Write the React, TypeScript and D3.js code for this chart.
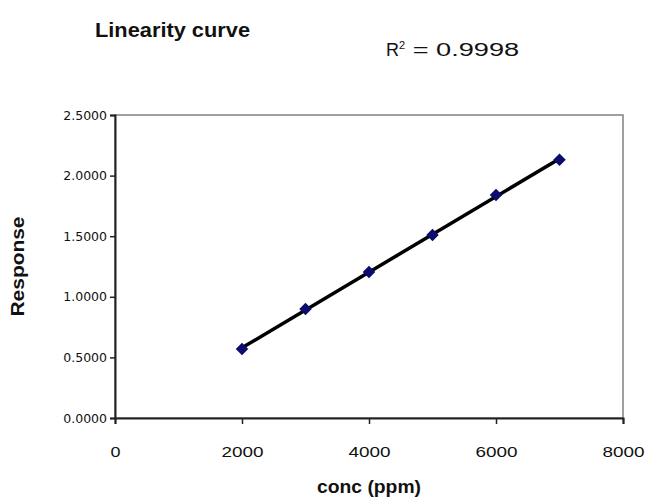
import React, { useRef, useEffect } from "react";
import * as d3 from "d3";

// readings
const conc = [2000, 3000, 4000, 5000, 6000, 7000];
const response = [0.57, 0.9, 1.205, 1.51, 1.84, 2.13];
const xTicks = [0, 2000, 4000, 6000, 8000];
const yTicks = [0, 0.5, 1, 1.5, 2, 2.5];
const rSquared = "0.9998";

const W = 645;
const H = 501;
const margin = { top: 115, right: 22, bottom: 83, left: 115 };

const App = () => {
    const ref = useRef<SVGSVGElement>(null);

    useEffect(() => {
        const svg = d3.select(ref.current);
        svg.selectAll("*").remove();

        const x = d3.scaleLinear().domain([0, 8000]).range([margin.left, W - margin.right]);
        const y = d3.scaleLinear().domain([0, 2.5]).range([H - margin.bottom, margin.top]);

        // plot frame (top / right in grey)
        svg.append("rect")
            .attr("x", x(0)).attr("y", y(2.5))
            .attr("width", x(8000) - x(0)).attr("height", y(0) - y(2.5))
            .attr("fill", "none").attr("stroke", "#808080").attr("stroke-width", 1.5);

        // y axis
        const yAxis = svg.append("g")
            .attr("transform", `translate(${x(0)},0)`)
            .call(d3.axisLeft(y).tickValues(yTicks).tickFormat(d3.format(".4f")).tickSize(5).tickPadding(3));
        yAxis.select(".domain").attr("stroke", "#222").attr("stroke-width", 2);
        yAxis.selectAll(".tick line").attr("stroke", "#222").attr("stroke-width", 1.5);
        yAxis.selectAll(".tick text")
            .attr("font-family", "DejaVu Sans, Verdana, sans-serif")
            .attr("font-size", 12.5).attr("fill", "#111");

        // x axis
        const xAxis = svg.append("g")
            .attr("transform", `translate(0,${y(0)})`)
            .call(d3.axisBottom(x).tickValues(xTicks).tickFormat(d3.format("d")).tickSize(6).tickPadding(22));
        xAxis.select(".domain").attr("stroke", "#222").attr("stroke-width", 2);
        xAxis.selectAll(".tick line").attr("stroke", "#222").attr("stroke-width", 1.5);
        xAxis.selectAll<SVGTextElement, number>(".tick text")
            .attr("font-family", "Liberation Sans, Arial, sans-serif")
            .attr("font-size", 15).attr("fill", "#111")
            .attr("textLength", d => (d === 0 ? 10 : 42))
            .attr("lengthAdjust", "spacingAndGlyphs");

        // linear fit
        const n = conc.length;
        const mx = d3.mean(conc) as number;
        const my = d3.mean(response) as number;
        const slope = d3.sum(conc, (c, i) => (c - mx) * (response[i] - my)) / d3.sum(conc, c => (c - mx) ** 2);
        const icpt = my - slope * mx;
        const ends = [conc[0], conc[n - 1]];
        svg.append("path")
            .datum(ends)
            .attr("fill", "none").attr("stroke", "#000").attr("stroke-width", 3.5)
            .attr("d", d3.line<number>().x(d => x(d)).y(d => y(slope * d + icpt)));

        // markers
        svg.selectAll("path.pt")
            .data(conc)
            .join("path")
            .attr("class", "pt")
            .attr("transform", (d, i) => `translate(${x(d)},${y(response[i])})`)
            .attr("d", d3.symbol(d3.symbolDiamond2, 100)())
            .attr("fill", "#0c0c6e");

        // texts
        const sans = "Liberation Sans, Arial, sans-serif";
        svg.append("text")
            .attr("x", 95).attr("y", 37)
            .attr("font-family", sans).attr("font-weight", "bold").attr("font-size", 21)
            .attr("textLength", 155).attr("lengthAdjust", "spacingAndGlyphs")
            .attr("fill", "#111").text("Linearity curve");

        const r = svg.append("text")
            .attr("x", 386).attr("y", 56)
            .attr("font-family", sans).attr("font-size", 18).attr("fill", "#111");
        r.append("tspan").text("R");
        r.append("tspan").attr("dy", -7).attr("font-size", 11).text("2");
        r.append("tspan").attr("dy", 7)
            .attr("textLength", 114).attr("lengthAdjust", "spacingAndGlyphs")
            .text(` = ${rSquared}`);

        svg.append("text")
            .attr("transform", `translate(24,${(y(0) + y(2.5)) / 2}) rotate(-90)`)
            .attr("text-anchor", "middle")
            .attr("font-family", sans).attr("font-weight", "bold").attr("font-size", 18)
            .attr("textLength", 100).attr("lengthAdjust", "spacingAndGlyphs")
            .attr("fill", "#111").text("Response");

        svg.append("text")
            .attr("x", x(4000)).attr("y", 493)
            .attr("text-anchor", "middle")
            .attr("font-family", sans).attr("font-weight", "bold").attr("font-size", 19)
            .attr("textLength", 104).attr("lengthAdjust", "spacingAndGlyphs")
            .attr("fill", "#111").text("conc (ppm)");
    }, []);

    return (
        <svg
            ref={ref}
            width={W}
            height={H}
            style={{ position: "absolute", left: 0, top: 0, background: "#fff" }}
        />
    );
};

export default App;
